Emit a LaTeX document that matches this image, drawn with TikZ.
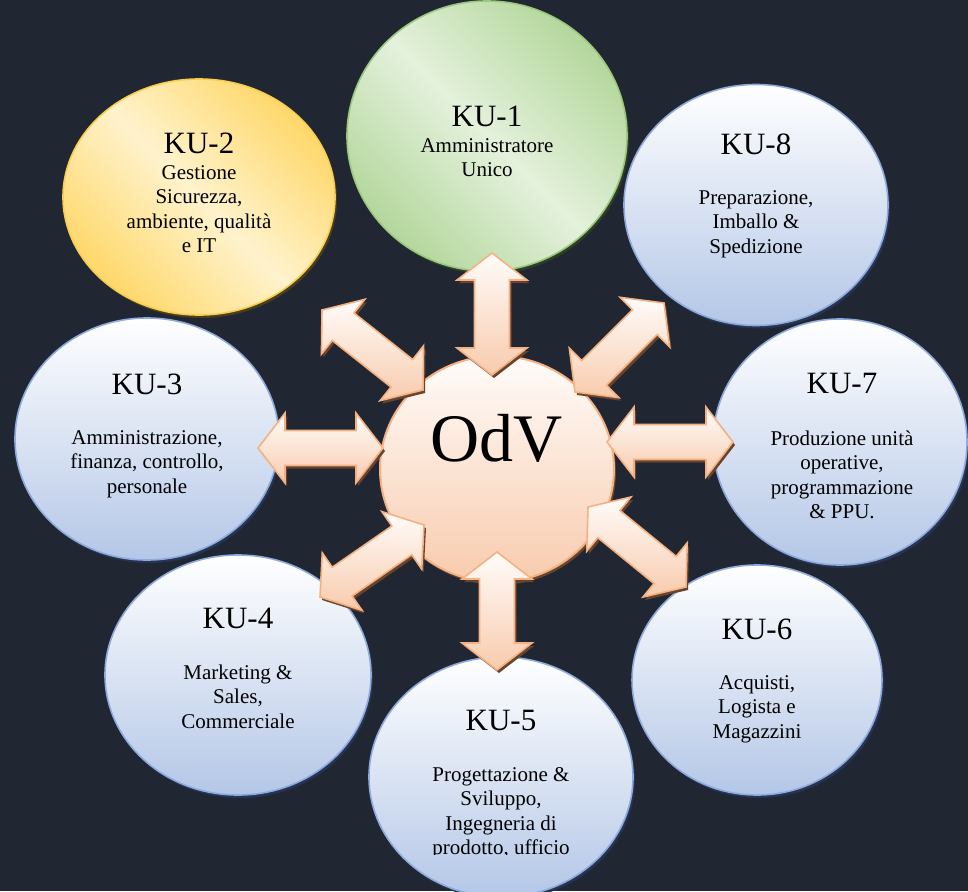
\documentclass[tikz,border=0pt]{standalone}
\usepackage{fontspec}
\setmainfont{Liberation Serif}
\usetikzlibrary{calc,shapes.geometric,shadows}
\definecolor{bg}{RGB}{32,39,51}
\definecolor{bluebot}{RGB}{180,199,231}
\definecolor{bluebd}{RGB}{143,170,220}
\definecolor{blueshd}{RGB}{38,52,84}
\definecolor{greenlt}{RGB}{228,241,220}
\definecolor{greendk}{RGB}{180,215,156}
\definecolor{greenbd}{RGB}{155,200,125}
\definecolor{greenshd}{RGB}{45,62,40}
\definecolor{goldA}{RGB}{255,216,106}
\definecolor{goldB}{RGB}{255,243,205}
\definecolor{goldbd}{RGB}{250,205,80}
\definecolor{goldshd}{RGB}{72,62,30}
\definecolor{peachtop}{RGB}{255,252,250}
\definecolor{peachbot}{RGB}{248,203,173}
\definecolor{peachbd}{RGB}{244,177,131}
\definecolor{peachshd}{RGB}{105,68,45}
\newcommand\bodyfont{\fontsize{21}{24.5}\selectfont}
\newcommand\titlefont{\fontsize{31}{36}\selectfont}
\tikzset{
  ku/.style={ellipse, inner sep=0pt, line width=1.6pt},
  blueku/.style={ku, draw=bluebd, top color=white, bottom color=bluebot,
    drop shadow={shadow xshift=2pt, shadow yshift=-3pt, fill=blueshd, opacity=1}},
  greenku/.style={ku, draw=greenbd, top color=greendk, bottom color=greendk, middle color=greenlt, shading angle=-45,
    drop shadow={shadow xshift=2pt, shadow yshift=-3pt, fill=greenshd, opacity=1}},
  goldku/.style={ku, draw=goldbd, top color=goldA, bottom color=goldA, middle color=goldB, shading angle=-45,
    drop shadow={shadow xshift=2pt, shadow yshift=-3pt, fill=goldshd, opacity=1}},
  odvku/.style={ku, draw=peachbd, line width=2pt, top color=peachtop, bottom color=peachbot,
    drop shadow={shadow xshift=2pt, shadow yshift=-3pt, fill=peachshd, opacity=1}},
  title/.style={anchor=base, inner sep=0pt, font=\titlefont},
  body/.style={anchor=north, inner sep=0pt, align=center, font=\bodyfont},
  arrowbody/.style={draw=peachbd, line width=1.6pt, line join=miter, top color=peachtop, bottom color=peachbot},
  arrshadow/.style={fill=peachshd},
}
\newcommand\dblarrow[2]{%
  \coordinate (hA) at ($(#1)!27pt!(#2)$);
  \coordinate (hB) at ($(#2)!27pt!(#1)$);
  \coordinate (aL) at ($(hA)!35pt!90:(#2)$);
  \coordinate (aR) at ($(hA)!35pt!-90:(#2)$);
  \coordinate (sAL) at ($(hA)!17.5pt!90:(#2)$);
  \coordinate (sAR) at ($(hA)!17.5pt!-90:(#2)$);
  \coordinate (bL) at ($(hB)!35pt!-90:(#1)$);
  \coordinate (bR) at ($(hB)!35pt!90:(#1)$);
  \coordinate (sBL) at ($(hB)!17.5pt!-90:(#1)$);
  \coordinate (sBR) at ($(hB)!17.5pt!90:(#1)$);
  \begin{scope}[transform canvas={shift={(2pt,-3pt)}}]
    \fill[arrshadow] (#1) -- (aL) -- (sAL) -- (sBL) -- (bL) -- (#2) -- (bR) -- (sBR) -- (sAR) -- (aR) -- cycle;
  \end{scope}
  \path[arrowbody] (#1) -- (aL) -- (sAL) -- (sBL) -- (bL) -- (#2) -- (bR) -- (sBR) -- (sAR) -- (aR) -- cycle;
}
\begin{document}
\begin{tikzpicture}[x=1pt,y=-1pt]
\useasboundingbox (0,0) rectangle (968,891);
\clip (0,0) rectangle (968,891);
\fill[bg] (0,0) rectangle (968,891);

% circles
\node[greenku, minimum width=280pt, minimum height=270pt] (ku1) at (487,136) {};
\node[goldku, minimum width=272pt, minimum height=236pt] (ku2) at (199,197) {};
\node[blueku, minimum width=264pt, minimum height=241pt] (ku8) at (756,205) {};
\node[blueku, minimum width=264pt, minimum height=242pt] (ku3) at (147,439) {};
\node[blueku, minimum width=254pt, minimum height=246pt] (ku7) at (840,442) {};
\node[blueku, minimum width=266pt, minimum height=240pt] (ku4) at (238,675) {};
\node[blueku, minimum width=250pt, minimum height=230pt] (ku6) at (757,680) {};
\node[blueku, minimum width=264pt, minimum height=240pt] (ku5) at (501,777) {};
\node[odvku, minimum width=234pt, minimum height=226pt] (odv) at (497,469) {};

% texts
\node[title] (ku1t) at (487,126) {KU-1};
\node[body] (ku1b) at (487,135) {\strut Amministratore\\Unico};
\node[title] (ku2t) at (199,153) {KU-2};
\node[body] (ku2b) at (199,162) {\strut Gestione\\Sicurezza,\\ambiente, qualità\\e IT};
\node[title] (ku8t) at (756,154) {KU-8};
\node[body] (ku8b) at (756,187) {\strut Preparazione,\\Imballo \&\\Spedizione};
\node[title] (ku3t) at (147,394) {KU-3};
\node[body] (ku3b) at (147,427) {\strut Amministrazione,\\finanza, controllo,\\personale};
\node[title] (ku7t) at (842,393) {KU-7};
\node[body] (ku7b) at (842,428) {\strut Produzione unità\\operative,\\programmazione\\\& PPU.};
\node[title] (ku4t) at (238,628) {KU-4};
\node[body] (ku4b) at (238,662) {\strut Marketing \&\\Sales,\\Commerciale};
\node[title] (ku6t) at (757,639) {KU-6};
\node[body] (ku6b) at (757,672) {\strut Acquisti,\\Logista e\\Magazzini};
\node[title] (ku5t) at (501,730) {KU-5};
\begin{scope}
  \clip (0,0) rectangle (968,854);
  \node[body] (ku5b) at (501,764) {\strut Progettazione \&\\Sviluppo,\\Ingegneria di\\prodotto, ufficio};
\end{scope}
\node[anchor=base, inner sep=0pt, font=\fontsize{68}{70}\selectfont] (odvt) at (497,461) {OdV};

% arrow end points
\coordinate (t1a) at (492,253); \coordinate (t1b) at (492,375);
\coordinate (t5a) at (497,552); \coordinate (t5b) at (497,670);
\coordinate (t3a) at (258,448); \coordinate (t3b) at (383,448);
\coordinate (t7a) at (607,442); \coordinate (t7b) at (733,442);
\coordinate (t2a) at (322,310); \coordinate (t2b) at (423,390);
\coordinate (t8a) at (575,392); \coordinate (t8b) at (664,303);
\coordinate (t4a) at (320,597); \coordinate (t4b) at (424,525);
\coordinate (t6a) at (588,507); \coordinate (t6b) at (686,587);

\dblarrow{t1a}{t1b}
\dblarrow{t2a}{t2b}
\dblarrow{t8a}{t8b}
\dblarrow{t3a}{t3b}
\dblarrow{t7a}{t7b}
\dblarrow{t4a}{t4b}
\dblarrow{t6a}{t6b}
\dblarrow{t5a}{t5b}
\end{tikzpicture}
\end{document}
